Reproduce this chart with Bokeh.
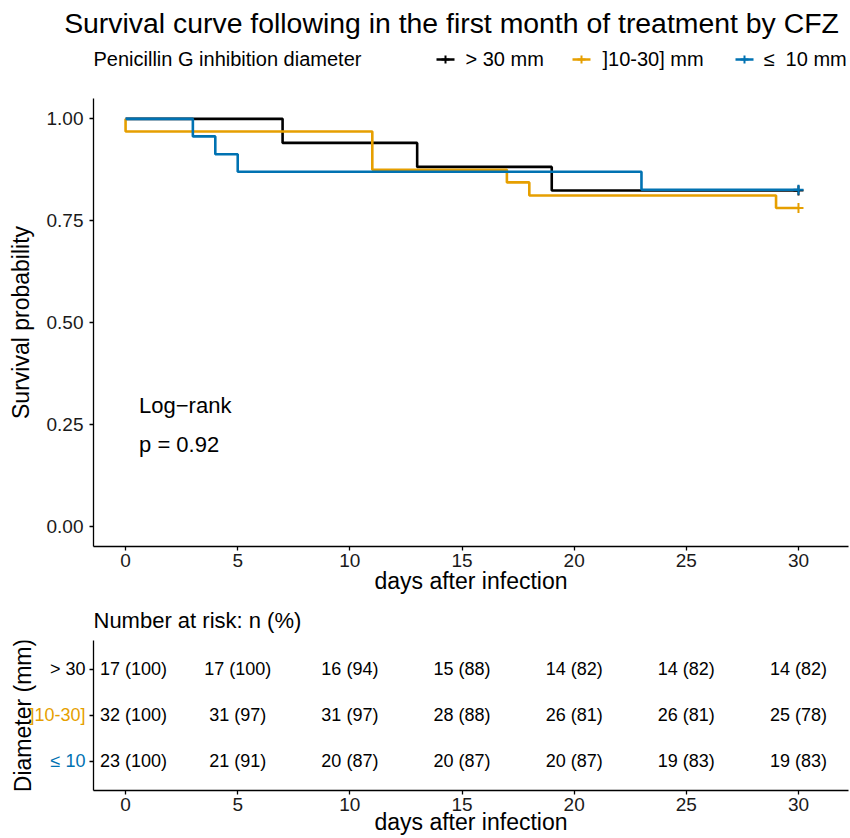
import math
from bokeh.plotting import figure
from bokeh.layouts import column, row
from bokeh.models import Range1d, FixedTicker, Label, ColumnDataSource
from bokeh.core.properties import value
from bokeh.embed import file_html
from bokeh.resources import INLINE

FONT = "Liberation Sans"

# ---------------- data ----------------
title_text = "Survival curve following in the first month of treatment by CFZ"
legend_title = "Penicillin G inhibition diameter"
group_names = ["> 30 mm", "]10-30] mm", "≤\u00a0 10 mm"]
row_labels = ["> 30", "]10-30]", "≤ 10"]
colors = ["#000000", "#E69F00", "#0072B2"]

t_gt30 = [0, 7, 13, 19, 30]
s_gt30 = [1.0, 0.941, 0.882, 0.824, 0.824]
t_mid = [0, 0, 11, 17, 18, 29, 30]
s_mid = [1.0, 0.969, 0.875, 0.844, 0.812, 0.781, 0.781]
t_le10 = [0, 3, 4, 5, 23, 30]
s_le10 = [1.0, 0.957, 0.913, 0.870, 0.826, 0.826]

risk_times = [0, 5, 10, 15, 20, 25, 30]
n_gt30 = [17, 17, 16, 15, 14, 14, 14]
pct_gt30 = [100, 100, 94, 88, 82, 82, 82]
n_mid = [32, 31, 31, 28, 26, 26, 25]
pct_mid = [100, 97, 97, 88, 81, 81, 78]
n_le10 = [23, 21, 20, 20, 20, 19, 19]
pct_le10 = [100, 91, 87, 87, 87, 83, 83]

x_ticks = [0, 5, 10, 15, 20, 25, 30]
y_ticks = [0, 0.25, 0.5, 0.75, 1.0]
test_text = "Log\u2212rank"
pvalue_text = "p = 0.92"
x_title = "days after infection"
y_title = "Survival probability"
risk_title = "Number at risk: n (%)"
risk_y_title = "Diameter (mm)"

W = 850
X_RANGE = (-1.43, 32.23)


def no_align(p):
    try:
        p.frame_align = False
    except Exception:
        pass


def style_axes(p, tick_size="19px"):
    for ax in (p.xaxis[0], p.yaxis[0]):
        ax.axis_line_color = "black"
        ax.axis_line_width = 1.3
        ax.major_tick_line_color = "black"
        ax.major_tick_line_width = 1.3
        ax.major_tick_out = 4
        ax.major_tick_in = 0
        ax.minor_tick_line_color = None
        ax.major_label_text_font = FONT
        ax.major_label_text_font_size = tick_size
        ax.major_label_text_color = "#1a1a1a"
        ax.axis_label_text_font = FONT
        ax.axis_label_text_font_size = "23px"
        ax.axis_label_text_font_style = "normal"
        ax.axis_label_text_color = "black"
    p.grid.visible = False


# ---------------- header (title + legend) ----------------
hdr = figure(width=W, height=90, x_range=Range1d(0, W), y_range=Range1d(90, 0),
             toolbar_location=None, output_backend="svg", min_border=0,
             x_axis_location=None, y_axis_location=None, outline_line_color=None)
no_align(hdr)
hdr.grid.visible = False
hdr.text(x=[451], y=[22], text=[title_text], text_align="center", text_baseline="middle",
         text_font=value(FONT), text_font_size="28.4px", text_color="black")
hdr.text(x=[93], y=[58], text=[legend_title], text_align="left", text_baseline="middle",
         text_font=value(FONT), text_font_size="20px", text_color="black")
key_x = [436, 572, 735]
lab_x = [465, 602, 763]
hdr.segment(x0=key_x, x1=[k + 18 for k in key_x], y0=[59] * 3, y1=[59] * 3,
            line_color=colors, line_width=2.6)
hdr.scatter(x=[k + 9 for k in key_x], y=[59] * 3, marker="cross", size=8,
            line_color=colors, line_width=2)
hdr.text(x=lab_x, y=[58] * 3, text=group_names, text_align="left", text_baseline="middle",
         text_font=value(FONT), text_font_size="20px", text_color="black")

# ---------------- main survival plot ----------------
main = figure(width=W, height=508, x_range=Range1d(*X_RANGE), y_range=Range1d(-0.05, 1.05),
              toolbar_location=None, output_backend="svg",
              min_border_left=93, min_border_right=2, min_border_top=8, min_border_bottom=52,
              outline_line_color=None)
no_align(main)
style_axes(main)
main.xaxis.ticker = FixedTicker(ticks=x_ticks)
main.yaxis.ticker = FixedTicker(ticks=y_ticks)
main.yaxis.major_label_overrides = {t: f"{t:.2f}" for t in y_ticks}
main.xaxis.axis_label = x_title
main.yaxis.axis_label = y_title
main.xaxis.major_label_standoff = 3
main.xaxis.axis_label_standoff = -2
main.yaxis.major_label_standoff = 6
main.yaxis.axis_label_standoff = 10

curves = [(t_gt30, s_gt30), (t_mid, s_mid), (t_le10, s_le10)]
for (t, s), c in zip(curves, colors):
    main.step(x=t, y=s, mode="after", line_color=c, line_width=2.6)
    main.scatter(x=[t[-1]], y=[s[-1]], marker="cross", size=10, line_color=c, line_width=2)

main.add_layout(Label(x=0.6, y=0.297, text=test_text, text_font=FONT, text_font_size="22px",
                      text_baseline="middle", text_align="left", text_color="black"))
main.add_layout(Label(x=0.6, y=0.201, text=pvalue_text, text_font=FONT, text_font_size="22px",
                      text_baseline="middle", text_align="left", text_color="black"))

# ---------------- risk table ----------------
LBL_W = 86
TBL_H = 240
row_y = [3, 2, 1]
table_y_range = Range1d(0.36, 3.62)

tbl = figure(width=W - LBL_W, height=TBL_H, x_range=Range1d(*X_RANGE), y_range=table_y_range,
             toolbar_location=None, output_backend="svg", title=risk_title,
             min_border_left=7, min_border_right=2, min_border_top=42, min_border_bottom=48,
             outline_line_color=None)
no_align(tbl)
tbl.title.align = "left"
tbl.title.text_font = FONT
tbl.title.text_font_size = "22px"
tbl.title.text_font_style = "normal"
tbl.title.text_color = "black"
tbl.title.standoff = 15
style_axes(tbl)
tbl.xaxis.ticker = FixedTicker(ticks=x_ticks)
tbl.xaxis.axis_label = x_title
tbl.xaxis.major_label_standoff = 3
tbl.xaxis.axis_label_standoff = -5
tbl.yaxis.ticker = FixedTicker(ticks=row_y)
tbl.yaxis.major_label_overrides = {y: "" for y in row_y}
tbl.yaxis.major_label_standoff = 0

xs, ys, txt, offs = [], [], [], []
for yv, ns, ps in zip(row_y, [n_gt30, n_mid, n_le10], [pct_gt30, pct_mid, pct_le10]):
    for i, (tv, n, pc) in enumerate(zip(risk_times, ns, ps)):
        xs.append(tv)
        ys.append(yv)
        txt.append(f"{n} ({pc})")
        offs.append(8 if i == 0 else 0)
tbl.text(x="x", y="y", text="t", x_offset="dx",
         source=ColumnDataSource(dict(x=xs, y=ys, t=txt, dx=offs)),
         text_align="center", text_baseline="middle", text_font=value(FONT),
         text_font_size="18px", text_color="black")

# row labels + table y title (left strip sharing the table's y scale)
lbl = figure(width=LBL_W, height=TBL_H, x_range=Range1d(0, LBL_W), y_range=table_y_range,
             toolbar_location=None, output_backend="svg",
             min_border_left=0, min_border_right=0, min_border_top=42, min_border_bottom=48,
             x_axis_location=None, y_axis_location=None, outline_line_color=None)
no_align(lbl)
lbl.grid.visible = False
lbl.text(x=[LBL_W - 1] * 3, y=row_y, text=row_labels, text_align="right",
         text_baseline="middle", text_font=value(FONT), text_font_size="18px",
         text_color=colors)
lbl.text(x=[22], y=[(table_y_range.start + table_y_range.end) / 2], text=[risk_y_title],
         angle=math.pi / 2, text_align="center", text_baseline="middle",
         text_font=value(FONT), text_font_size="23px", text_color="black")

layout = column(hdr, main, row(lbl, tbl, spacing=0), spacing=0)
open("out.html", "w").write(file_html(layout, INLINE))
